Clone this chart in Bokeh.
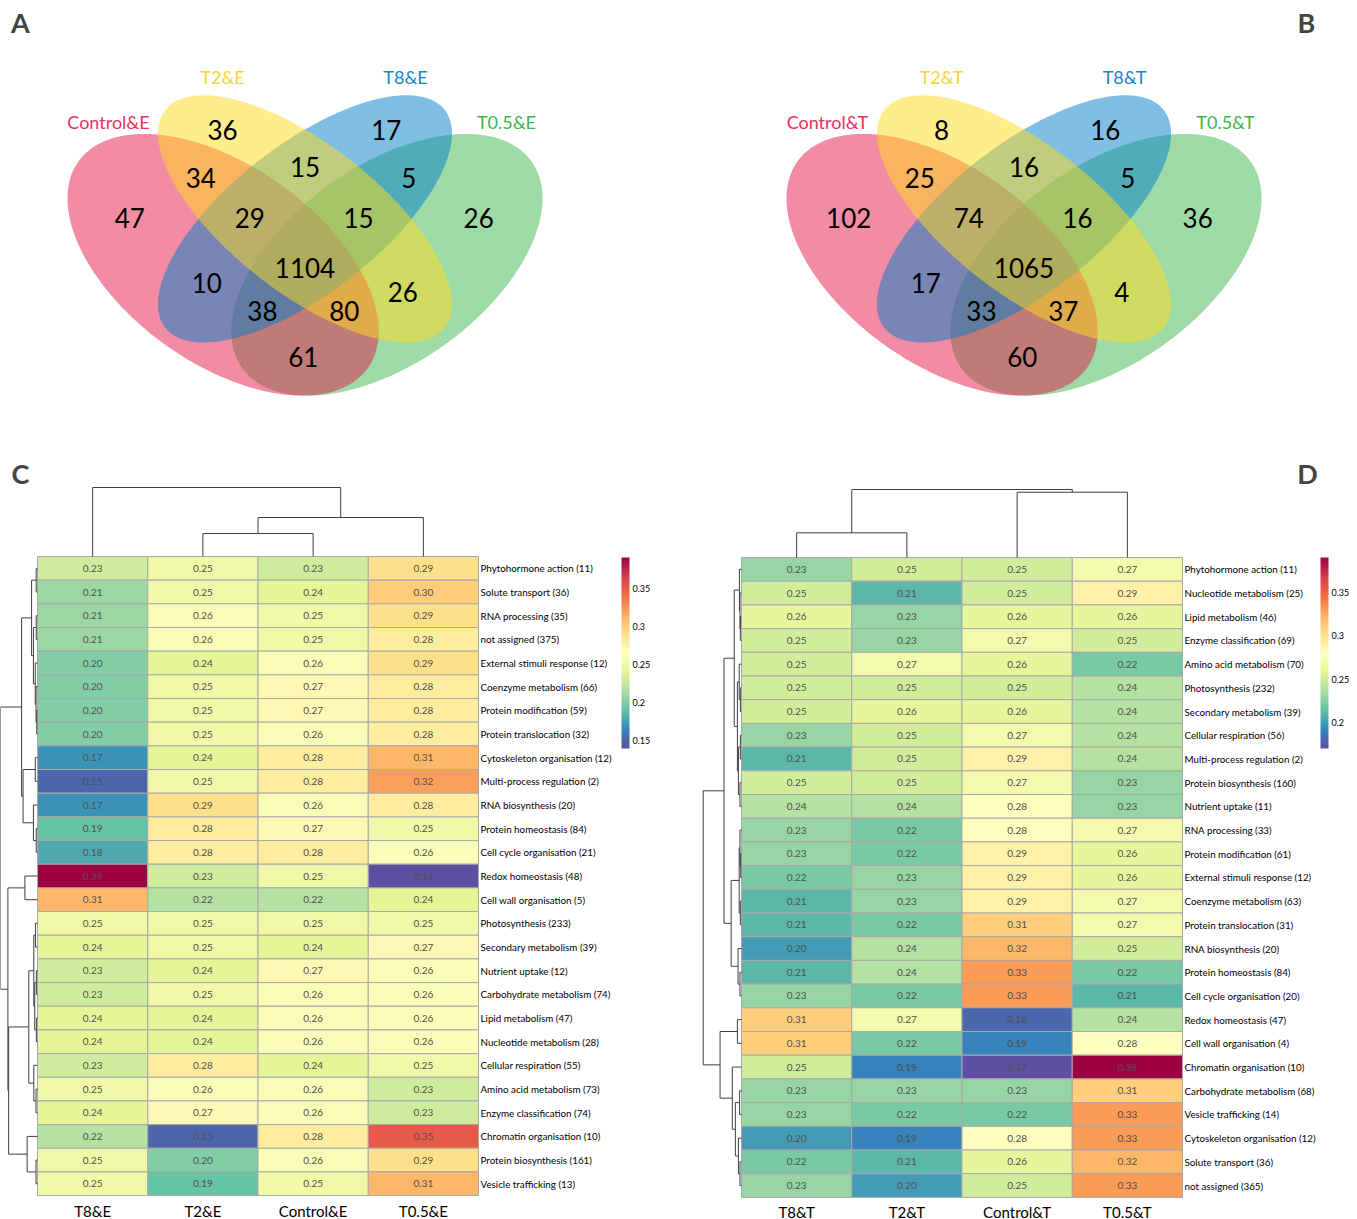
import numpy as np
from bokeh.plotting import figure
from bokeh.models import (ColumnDataSource, LinearColorMapper, ColorBar, FixedTicker,
                          Label, Range1d, PrintfTickFormatter)
from bokeh.layouts import column, row
from bokeh.transform import transform
from bokeh.palettes import Spectral11
from bokeh.core.properties import value
from bokeh.embed import file_html
from bokeh.resources import INLINE

FONT = "Lato"

# ---------------------------------------------------------------- Venn data
venn_regions = ["1", "2", "3", "4", "12", "23", "34", "123", "234", "1234",
                "13", "24", "134", "124", "14"]
venn_sets_A = ["Control&E", "T2&E", "T8&E", "T0.5&E"]
venn_counts_A = [47, 36, 17, 26, 34, 15, 5, 29, 15, 1104, 10, 26, 38, 80, 61]
venn_sets_B = ["Control&T", "T2&T", "T8&T", "T0.5&T"]
venn_counts_B = [102, 8, 16, 36, 25, 16, 5, 74, 16, 1065, 17, 4, 33, 37, 60]

# ------------------------------------------------------------- heatmap data
cols_C = ["T8&E", "T2&E", "Control&E", "T0.5&E"]
rows_C = ["Phytohormone action (11)", "Solute transport (36)", "RNA processing (35)",
          "not assigned (375)", "External stimuli response (12)", "Coenzyme metabolism (66)",
          "Protein modification (59)", "Protein translocation (32)",
          "Cytoskeleton organisation (12)", "Multi-process regulation (2)",
          "RNA biosynthesis (20)", "Protein homeostasis (84)", "Cell cycle organisation (21)",
          "Redox homeostasis (48)", "Cell wall organisation (5)", "Photosynthesis (233)",
          "Secondary metabolism (39)", "Nutrient uptake (12)", "Carbohydrate metabolism (74)",
          "Lipid metabolism (47)", "Nucleotide metabolism (28)", "Cellular respiration (55)",
          "Amino acid metabolism (73)", "Enzyme classification (74)",
          "Chromatin organisation (10)", "Protein biosynthesis (161)", "Vesicle trafficking (13)"]
vals_C = [
    [0.23, 0.25, 0.23, 0.29], [0.21, 0.25, 0.24, 0.30], [0.21, 0.26, 0.25, 0.29],
    [0.21, 0.26, 0.25, 0.28], [0.20, 0.24, 0.26, 0.29], [0.20, 0.25, 0.27, 0.28],
    [0.20, 0.25, 0.27, 0.28], [0.20, 0.25, 0.26, 0.28], [0.17, 0.24, 0.28, 0.31],
    [0.15, 0.25, 0.28, 0.32], [0.17, 0.29, 0.26, 0.28], [0.19, 0.28, 0.27, 0.25],
    [0.18, 0.28, 0.28, 0.26], [0.39, 0.23, 0.25, 0.14], [0.31, 0.22, 0.22, 0.24],
    [0.25, 0.25, 0.25, 0.25], [0.24, 0.25, 0.24, 0.27], [0.23, 0.24, 0.27, 0.26],
    [0.23, 0.25, 0.26, 0.26], [0.24, 0.24, 0.26, 0.26], [0.24, 0.24, 0.26, 0.26],
    [0.23, 0.28, 0.24, 0.25], [0.25, 0.26, 0.26, 0.23], [0.24, 0.27, 0.26, 0.23],
    [0.22, 0.15, 0.28, 0.35], [0.25, 0.20, 0.26, 0.29], [0.25, 0.19, 0.25, 0.31],
]

cols_D = ["T8&T", "T2&T", "Control&T", "T0.5&T"]
rows_D = ["Phytohormone action (11)", "Nucleotide metabolism (25)", "Lipid metabolism (46)",
          "Enzyme classification (69)", "Amino acid metabolism (70)", "Photosynthesis (232)",
          "Secondary metabolism (39)", "Cellular respiration (56)",
          "Multi-process regulation (2)", "Protein biosynthesis (160)", "Nutrient uptake (11)",
          "RNA processing (33)", "Protein modification (61)", "External stimuli response (12)",
          "Coenzyme metabolism (63)", "Protein translocation (31)", "RNA biosynthesis (20)",
          "Protein homeostasis (84)", "Cell cycle organisation (20)", "Redox homeostasis (47)",
          "Cell wall organisation (4)", "Chromatin organisation (10)",
          "Carbohydrate metabolism (68)", "Vesicle trafficking (14)",
          "Cytoskeleton organisation (12)", "Solute transport (36)", "not assigned (365)"]
vals_D = [
    [0.23, 0.25, 0.25, 0.27], [0.25, 0.21, 0.25, 0.29], [0.26, 0.23, 0.26, 0.26],
    [0.25, 0.23, 0.27, 0.25], [0.25, 0.27, 0.26, 0.22], [0.25, 0.25, 0.25, 0.24],
    [0.25, 0.26, 0.26, 0.24], [0.23, 0.25, 0.27, 0.24], [0.21, 0.25, 0.29, 0.24],
    [0.25, 0.25, 0.27, 0.23], [0.24, 0.24, 0.28, 0.23], [0.23, 0.22, 0.28, 0.27],
    [0.23, 0.22, 0.29, 0.26], [0.22, 0.23, 0.29, 0.26], [0.21, 0.23, 0.29, 0.27],
    [0.21, 0.22, 0.31, 0.27], [0.20, 0.24, 0.32, 0.25], [0.21, 0.24, 0.33, 0.22],
    [0.23, 0.22, 0.33, 0.21], [0.31, 0.27, 0.18, 0.24], [0.31, 0.22, 0.19, 0.28],
    [0.25, 0.19, 0.17, 0.39], [0.23, 0.23, 0.23, 0.31], [0.23, 0.22, 0.22, 0.33],
    [0.20, 0.19, 0.28, 0.33], [0.22, 0.21, 0.26, 0.32], [0.23, 0.20, 0.25, 0.33],
]

# dendrograms: [merge height (fraction of root), left, right]; ints are leaf indices
row_tree_C = [1.0,
              [0.43,
               [0.16, [0.035, 0, 1],
                [0.11, [0.035, 2, 3], [0.06, 4, [0.04, 5, [0.02, 6, 7]]]]],
               [0.39, [0.06, 8, 9], [0.11, 10, [0.035, 11, 12]]]],
              [0.80,
               [0.34, 13, 14],
               [0.78,
                [0.235,
                 [0.10, [0.055, 15, 16], [0.075, [0.03, 17, 18], [0.03, 19, 20]]],
                 [0.10, 21, [0.04, 22, 23]]],
                [0.28, 24, [0.04, 25, 26]]]]]
col_tree_C = [1.0, 0, [0.565, [0.333, 1, 2], 3]]

row_tree_D = [1.0,
              [0.456,
               [0.19,
                [0.054, 0, [0.04, 1, [0.03, 2, 3]]],
                [0.107, [0.06, 4, [0.03, 5, 6]], [0.08, [0.03, 7, 8], [0.04, 9, 10]]]],
               [0.27,
                [0.06, [0.04, 11, [0.02, 12, 13]], [0.03, 14, 15]],
                [0.09, 16, [0.04, 17, 18]]]],
              [0.56,
               [0.107, 19, 20],
               [0.24, 21, [0.16, [0.05, 22, 23], [0.08, 24, [0.04, 25, 26]]]]]]
col_tree_D = [1.0, [0.363, 0, 1], [0.96, 2, 3]]

# colour scale limits and colour-bar ticks
range_C = (0.14, 0.39)
ticks_C = [0.15, 0.2, 0.25, 0.3, 0.35]
range_D = (0.17, 0.39)
ticks_D = [0.2, 0.25, 0.3, 0.35]


def ramp(colors, n=256):
    rgb = np.array([[int(c[i:i + 2], 16) for i in (1, 3, 5)] for c in colors], float)
    pos = np.linspace(0, 1, len(colors))
    t = np.linspace(0, 1, n)
    out = np.stack([np.interp(t, pos, rgb[:, k]) for k in range(3)], 1)
    return ["#%02x%02x%02x" % tuple(int(round(c)) for c in px) for px in out]


PALETTE = ramp(list(Spectral11))

# ------------------------------------------------------------ Venn drawing
ELLIPSES = [(0.35, 0.47, 0.35, 0.20, 135),
            (0.50, 0.57, 0.35, 0.15, 135),
            (0.50, 0.57, 0.35, 0.15, 45),
            (0.65, 0.47, 0.35, 0.20, 45)]
SET_COLORS = ["#E41A4A", "#FFDB19", "#027DC9", "#3BB54D"]
LABEL_COLORS = ["#E8315C", "#F9D530", "#1385CC", "#3DB54F"]
DRAW_ORDER = [3, 0, 2, 1]
REGION_POS = {"1": (0.179, 0.571), "2": (0.349, 0.763), "3": (0.649, 0.763),
              "4": (0.818, 0.571), "12": (0.309, 0.660), "23": (0.500, 0.682),
              "34": (0.690, 0.660), "123": (0.399, 0.571), "234": (0.598, 0.571),
              "1234": (0.500, 0.462), "13": (0.320, 0.431), "24": (0.679, 0.410),
              "134": (0.422, 0.370), "124": (0.572, 0.370), "14": (0.497, 0.270)}
SET_LABEL_POS = [(0.140, 0.782), (0.349, 0.878), (0.684, 0.878), (0.869, 0.782)]
UX, VY, V0 = 546.0, 459.0, 480.0


def bare_figure(width, height, xr, yr):
    p = figure(width=width, height=height, x_range=xr, y_range=yr,
               output_backend="svg", toolbar_location=None,
               x_axis_location=None, y_axis_location=None,
               min_border=0, outline_line_color=None)
    p.grid.visible = False
    p.background_fill_color = "white"
    p.border_fill_color = "white"
    return p


def venn_panel(sets, counts, left_px, width, letter, letter_x):
    h = 440
    p = bare_figure(width, h, Range1d(-left_px / UX, (width - left_px) / UX),
                    Range1d((V0 - h) / VY, V0 / VY))
    t = np.linspace(0, 2 * np.pi, 400)
    for k in DRAW_ORDER:
        cx, cy, a, b, ang = ELLIPSES[k]
        th = np.deg2rad(ang)
        xs = cx + a * np.cos(t) * np.cos(th) - b * np.sin(t) * np.sin(th)
        ys = cy + a * np.cos(t) * np.sin(th) + b * np.sin(t) * np.cos(th)
        p.patch(xs, ys, fill_color=SET_COLORS[k], fill_alpha=0.5, line_color=None)
    src = ColumnDataSource(dict(x=[REGION_POS[r][0] for r in venn_regions],
                                y=[REGION_POS[r][1] for r in venn_regions],
                                n=[str(c) for c in counts]))
    p.text("x", "y", text="n", source=src, text_font=value(FONT), text_font_size="26px",
           text_align="center", text_baseline="middle", text_color="black")
    lab = ColumnDataSource(dict(x=[q[0] for q in SET_LABEL_POS], y=[q[1] for q in SET_LABEL_POS],
                                s=sets, c=LABEL_COLORS))
    p.text("x", "y", text="s", source=lab, text_color="c", text_font=value(FONT),
           text_font_size="18px", text_align="center", text_baseline="middle")
    p.add_layout(Label(x=letter_x, y=h - 22, x_units="screen", y_units="screen", text=letter,
                       text_font=FONT, text_font_size="27px", text_font_style="bold",
                       text_align="center", text_baseline="middle"))
    return p


# --------------------------------------------------------- heatmap drawing
def dendro(node, segs):
    if isinstance(node, int):
        return node + 0.5, 0.0
    hgt, left, right = node
    p1, h1 = dendro(left, segs)
    p2, h2 = dendro(right, segs)
    segs.append((p1, h1, p1, hgt))
    segs.append((p2, h2, p2, hgt))
    segs.append((p1, hgt, p2, hgt))
    return (p1 + p2) / 2, hgt


def heatmap_panel(rows, cols, vals, row_tree, col_tree, crange, ticks, width,
                  left_px, top_px, cw, rh, row_dw_px, col_dh_px, cbar_loc, letter, letter_x):
    H = 779
    p = bare_figure(width, H, Range1d(-left_px / cw, (width - left_px) / cw),
                    Range1d((H - top_px) / rh, -top_px / rh))
    nr, nc = len(rows), len(cols)
    ii, jj = np.meshgrid(np.arange(nr), np.arange(nc), indexing="ij")
    v = np.array(vals, float).ravel()
    src = ColumnDataSource(dict(x=jj.ravel() + 0.5, y=ii.ravel() + 0.5, v=v,
                                lab=["%.2f" % q for q in v]))
    mapper = LinearColorMapper(palette=PALETTE, low=crange[0], high=crange[1])
    p.rect("x", "y", 1, 1, source=src, fill_color=transform("v", mapper),
           line_color="#A8A8A8", line_width=1)
    p.text("x", "y", text="lab", source=src, text_font=value(FONT), text_font_size="10px",
           text_color="#505050", text_align="center", text_baseline="middle")
    # row names on the right, column names below
    p.text(x=[nc] * nr, y=list(np.arange(nr) + 0.5), text=rows, x_offset=2,
           text_font=value(FONT), text_font_size="9.8px", text_color="black",
           text_align="left", text_baseline="middle")
    p.text(x=list(np.arange(nc) + 0.5), y=[nr] * nc, text=cols, y_offset=6,
           text_font=value(FONT), text_font_size="15px", text_color="black",
           text_align="center", text_baseline="top")
    # row dendrogram (left)
    segs = []
    dendro(row_tree, segs)
    wd = row_dw_px / cw
    p.segment(x0=[-s[1] * wd for s in segs], y0=[s[0] for s in segs],
              x1=[-s[3] * wd for s in segs], y1=[s[2] for s in segs],
              line_color="#3F3F3F", line_width=1)
    # column dendrogram (top)
    segs = []
    dendro(col_tree, segs)
    hd = col_dh_px / rh
    p.segment(x0=[s[0] for s in segs], y0=[-s[1] * hd for s in segs],
              x1=[s[2] for s in segs], y1=[-s[3] * hd for s in segs],
              line_color="#3F3F3F", line_width=1)
    cb = ColorBar(color_mapper=mapper, ticker=FixedTicker(ticks=ticks),
                  formatter=PrintfTickFormatter(format="%g"),
                  location=cbar_loc, width=8, height=191, padding=0, margin=0,
                  label_standoff=3, major_tick_line_color=None, bar_line_color=None,
                  border_line_color=None, background_fill_alpha=0,
                  major_label_text_font=FONT, major_label_text_font_size="9px",
                  major_label_text_color="black")
    p.add_layout(cb)
    p.add_layout(Label(x=letter_x, y=H - 33, x_units="screen", y_units="screen", text=letter,
                       text_font=FONT, text_font_size="27px", text_font_style="bold",
                       text_align="center", text_baseline="middle"))
    return p


pA = venn_panel(venn_sets_A, venn_counts_A, 31.5, 678, "A", 20)
pB = venn_panel(venn_sets_B, venn_counts_B, 72.5, 679, "B", 628)
pC = heatmap_panel(rows_C, cols_C, vals_C, row_tree_C, col_tree_C, range_C, ticks_C, 678,
                   37, 116, 110.25, 23.67, 37, 69, (621, 471), "C", 20)
pD = heatmap_panel(rows_D, cols_D, vals_D, row_tree_D, col_tree_D, range_D, ticks_D, 679,
                   63, 117, 110.25, 23.7, 38.3, 68, (642, 471), "D", 629)

page = column(row(pA, pB), row(pC, pD))
open("out.html", "w").write(file_html(page, INLINE, "Venn diagrams and heatmaps"))
